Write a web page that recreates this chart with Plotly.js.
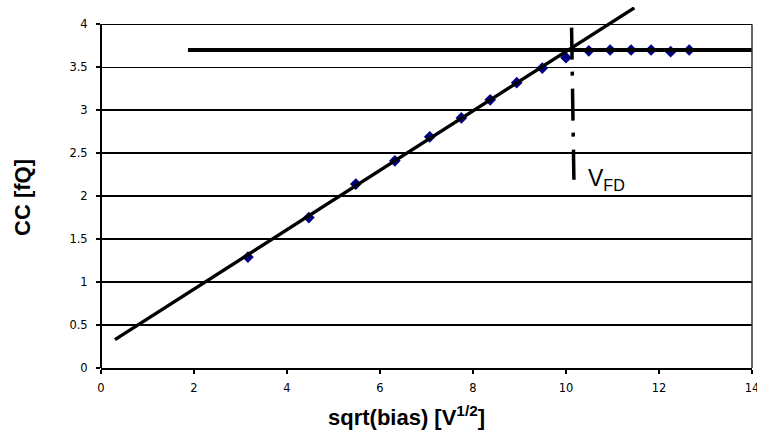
<!DOCTYPE html>
<html>
<head>
<meta charset="utf-8">
<script src="https://cdn.plot.ly/plotly-3.0.1.min.js"></script>
<style>
html,body{margin:0;padding:0;background:#fff;}
#chart{width:757px;height:433px;}
</style>
</head>
<body>
<div id="chart"></div>
<script>
// Measured data: CC vs sqrt(bias)
var sqrtBias = [3.16, 4.47, 5.48, 6.32, 7.07, 7.75, 8.37, 8.94, 9.49, 10.0, 10.49, 10.95, 11.4, 11.83, 12.25, 12.65];
var ccValues = [1.29, 1.75, 2.14, 2.41, 2.69, 2.91, 3.12, 3.32, 3.49, 3.61, 3.69, 3.70, 3.70, 3.70, 3.68, 3.70];

// Linear fit line (rise)
var fitX = [0.3, 11.47];
var fitY = [0.33, 4.19];

// Plateau line
var plateauX = [1.87, 14];
var plateauY = [3.70, 3.70];

// Full-depletion marker line
var vfdX = [10.12, 10.17];
var vfdY = [3.96, 2.19];

// Tick labels
var yTickVals = [0, 0.5, 1, 1.5, 2, 2.5, 3, 3.5, 4];
var yTickText = ["0", "0.5", "1", "1.5", "2", "2.5", "3", "3.5", "4"];
var xTickVals = [0, 2, 4, 6, 8, 10, 12, 14];
var xTickText = ["0", "2", "4", "6", "8", "10", "12", "14"];

var traces = [
  {x: sqrtBias, y: ccValues, type: 'scatter', mode: 'markers', name: 'CC',
   marker: {symbol: 'diamond', size: 9, color: '#000080', line: {width: 0}}, cliponaxis: false},
  {x: fitX, y: fitY, type: 'scatter', mode: 'lines', name: 'fit',
   line: {color: '#000', width: 3.4}},
  {x: plateauX, y: plateauY, type: 'scatter', mode: 'lines', name: 'plateau',
   line: {color: '#000', width: 4}},
  {x: vfdX, y: vfdY, type: 'scatter', mode: 'lines', name: 'VFD',
   line: {color: '#000', width: 3.5, dash: '32px,12px,4px,13px'}}
];

var tickFont = {family: 'DejaVu Sans, Liberation Sans, sans-serif', size: 11.5, color: '#000'};

var layout = {
  width: 757, height: 433,
  margin: {l: 101, r: 5, t: 7, b: 65},
  paper_bgcolor: '#fff', plot_bgcolor: '#fff',
  showlegend: false,
  xaxis: {
    range: [0, 14], tickvals: xTickVals, ticktext: xTickText,
    showgrid: false, zeroline: false,
    showline: true, linecolor: '#000', linewidth: 2,
    ticks: 'outside', ticklen: 4, tickwidth: 2, tickcolor: '#000',
    tickfont: tickFont, ticklabelstandoff: 4, ticklabeloverflow: 'allow'
  },
  yaxis: {
    range: [0, 4.2], tickvals: yTickVals, ticktext: yTickText,
    showgrid: true, gridcolor: '#000', gridwidth: 1.3,
    zeroline: false, showline: false,
    ticks: 'outside', ticklen: 4, tickwidth: 2, tickcolor: '#000',
    tickfont: tickFont, ticklabelstandoff: 6
  },
  shapes: [
    {type: 'line', xref: 'paper', yref: 'y', x0: 0, x1: 0, y0: 0, y1: 4,
     line: {color: '#000', width: 2}},
    {type: 'line', xref: 'paper', yref: 'y', x0: 1, x1: 1, y0: 0, y1: 4,
     line: {color: '#333', width: 1.5}}
  ],
  annotations: [
    {xref: 'x', yref: 'y', x: 10.43, y: 2.19, xanchor: 'left', yanchor: 'middle',
     text: 'V<sub>FD</sub>', showarrow: false,
     font: {family: 'Liberation Sans, Arial, sans-serif', size: 23, color: '#000'}},
    {xref: 'paper', yref: 'paper', x: (406 - 101) / 651, y: (368 - 416) / 361,
     xanchor: 'center', yanchor: 'middle', showarrow: false,
     text: 'sqrt(bias) [V<sup>1/2</sup>]',
     font: {family: 'Liberation Sans, Arial, sans-serif', size: 22, color: '#000', weight: 'bold'}},
    {xref: 'paper', yref: 'paper', x: (22 - 101) / 651, y: (368 - 198) / 361,
     xanchor: 'center', yanchor: 'middle', showarrow: false, textangle: -90,
     text: 'CC [fQ]',
     font: {family: 'Liberation Sans, Arial, sans-serif', size: 22, color: '#000', weight: 'bold'}}
  ]
};

Plotly.newPlot('chart', traces, layout, {displayModeBar: false, staticPlot: true});
</script>
</body>
</html>
